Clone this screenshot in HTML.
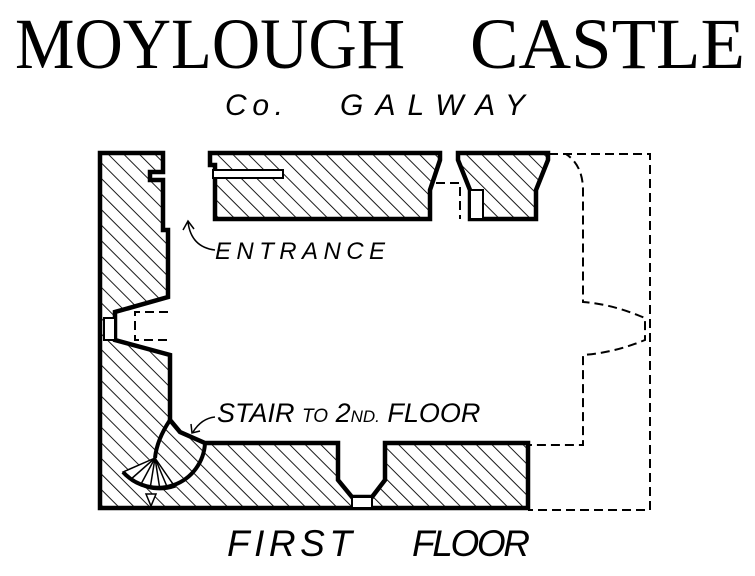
<!DOCTYPE html>
<html><head><style>
html,body{margin:0;padding:0;background:#fff;}
svg{display:block;}
</style></head><body>
<svg width="755" height="576" viewBox="0 0 755 576" xmlns="http://www.w3.org/2000/svg">
<defs>
<pattern id="h" width="11" height="11" patternUnits="userSpaceOnUse" patternTransform="rotate(-45)">
<rect width="11" height="11" fill="#fff"/>
<line x1="0" y1="0" x2="0" y2="11" stroke="#000" stroke-width="1.8"/>
</pattern>
</defs>
<g font-family="'Liberation Sans', sans-serif" fill="#000">
<text x="15" y="68" font-size="72" textLength="390" lengthAdjust="spacingAndGlyphs" font-family="'Liberation Serif', serif">MOYLOUGH</text>
<text x="470" y="68" font-size="72" textLength="275" lengthAdjust="spacingAndGlyphs" font-family="'Liberation Serif', serif">CASTLE</text>
<text x="225" y="115" font-size="30" font-style="italic" textLength="58" lengthAdjust="spacing">Co.</text>
<text x="340" y="115" font-size="30" font-style="italic" textLength="185" lengthAdjust="spacing">GALWAY</text>
<text x="227" y="556" font-size="37" font-style="italic" textLength="125" lengthAdjust="spacing">FIRST</text>
<text x="412" y="556" font-size="37" font-style="italic" textLength="118" lengthAdjust="spacing">FLOOR</text>
<text x="215" y="259" font-size="24" font-style="italic" textLength="170" lengthAdjust="spacing">ENTRANCE</text>
<text x="217" y="422" font-size="27" font-style="italic">STAIR  <tspan font-size="19">TO</tspan>  2<tspan font-size="17">ND.</tspan> FLOOR</text>
</g>
<g fill="none" stroke="#000" stroke-width="1.5">
<path d="M215,250 C198,248 190,238 188,222"/>
<path d="M183,230 L188,221 L194,229"/>
<path d="M215,417 C205,418 198,424 193,432"/>
<path d="M191,424 L192,433 L200,431"/>
</g>
<g fill="none" stroke="#000" stroke-width="2" stroke-dasharray="9,5">
<path d="M549,154 L650,154 L650,510 L528,510"/>
<path d="M549,154 L566,154 C578,162 583,175 583,190 L583,302 C610,304 630,312 645,318 L645,340 C630,346 610,353 583,355 L583,445 L528,445"/>
<path d="M430,219 L430,183 L460,183 L460,219"/>
<path d="M168,312 L135,312 L135,340 L170,340"/>
</g>
<g stroke="#000" stroke-width="4.5" fill="url(#h)" stroke-linejoin="miter">
<path d="M100,153 L163,153 L163,172 L150,172 L150,180 L163,180 L163,230 L168,230 L168,297 L115,312 L115,340 L170,355 L170,420 L180,432 L205,443 L338,443 L338,480 L352,497 L372,497 L385,480 L385,443 L528,443 L528,508 L100,508 Z"/>
<path d="M210,153 L440,153 L440,160 L430,190 L430,219 L215,219 L215,165 L210,165 Z"/>
<path d="M458,153 L548,153 L548,160 L536,190 L536,219 L470,219 L470,190 L458,160 Z"/>
</g>
<rect x="213" y="170" width="70" height="8" fill="#fff" stroke="#000" stroke-width="2"/>
<rect x="470" y="190" width="13" height="29" fill="#fff" stroke="#000" stroke-width="2"/>
<rect x="104" y="318" width="11" height="22" fill="#fff" stroke="#000" stroke-width="2"/>
<rect x="352" y="497" width="20" height="11" fill="#fff" stroke="#000" stroke-width="2"/>
<!-- stair -->
<path d="M155,458 L123,472 A47,47 0 0 0 175,487 Z" fill="#fff" stroke="#000" stroke-width="1.5"/>
<g stroke="#000" stroke-width="1.5">
<line x1="155" y1="458" x2="130" y2="480"/>
<line x1="155" y1="458" x2="140" y2="486"/>
<line x1="155" y1="458" x2="150" y2="489"/>
<line x1="155" y1="458" x2="160" y2="490"/>
<line x1="155" y1="458" x2="168" y2="489"/>
</g>
<path d="M205,443 A47,47 0 0 1 123,472" fill="none" stroke="#000" stroke-width="4"/>
<path d="M170,420 C160,435 156,448 155,458" fill="none" stroke="#000" stroke-width="4"/>
<polygon points="146,494 156,494 151,506" fill="#fff" stroke="#000" stroke-width="1.5"/>
</svg>
</body></html>
